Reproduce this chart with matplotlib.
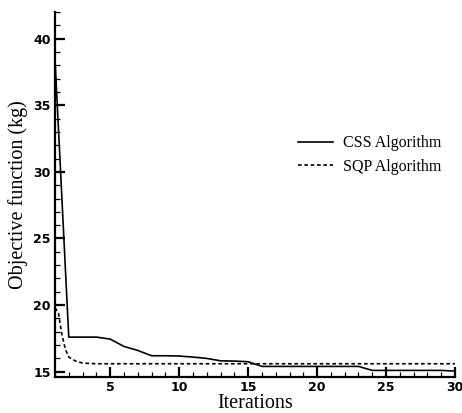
import matplotlib
matplotlib.use('Agg')
import matplotlib.pyplot as plt
from matplotlib.ticker import MultipleLocator

# CSS convergence history
css_iter = [1, 2, 3, 4, 5, 6, 7, 8, 9, 10, 11, 12, 13, 14, 15, 16, 17, 18, 19, 20,
            21, 22, 23, 24, 25, 26, 27, 28, 29, 30]
css_obj = [38.5, 17.6, 17.6, 17.6, 17.45, 16.9, 16.6, 16.2, 16.2, 16.18, 16.1, 16.0,
           15.82, 15.8, 15.75, 15.4, 15.4, 15.4, 15.4, 15.4, 15.4, 15.4, 15.4, 15.1,
           15.1, 15.1, 15.1, 15.1, 15.1, 15.05]

# SQP convergence history
sqp_iter = [1, 1.25, 1.5, 1.75, 2, 2.5, 3, 4, 5, 10, 15, 20, 25, 30]
sqp_obj = [19.8, 19.4, 17.8, 16.7, 16.1, 15.8, 15.65, 15.6, 15.6, 15.6, 15.6, 15.6,
           15.6, 15.6]

fig = plt.figure(figsize=(4.62, 4.13), dpi=100)
ax = fig.add_axes([0.119, 0.087, 0.866, 0.884])

ax.plot(css_iter, css_obj, color='black', lw=1.2, label='CSS Algorithm')
ax.plot(sqp_iter, sqp_obj, color='black', lw=1.2, linestyle=(0, (2.2, 1.6)),
        label='SQP Algorithm')

ax.set_xlim(1, 30)
ax.set_ylim(14.6, 42)
ax.xaxis.set_major_locator(MultipleLocator(5))
ax.xaxis.set_minor_locator(MultipleLocator(1))
ax.yaxis.set_major_locator(MultipleLocator(5))
ax.yaxis.set_minor_locator(MultipleLocator(1))

for s in ['top', 'right']:
    ax.spines[s].set_visible(False)
for s in ['left', 'bottom']:
    ax.spines[s].set_linewidth(1.6)

ax.tick_params(which='major', direction='in', length=7.5, width=1.6, pad=3)
ax.tick_params(which='minor', direction='in', length=3.5, width=0.9)
for lab in ax.get_xticklabels() + ax.get_yticklabels():
    lab.set_fontfamily('DejaVu Sans')
    lab.set_fontweight('bold')
    lab.set_fontsize(9)

ax.set_xlabel('Iterations', family='Liberation Serif', fontsize=14.5, labelpad=0)
ax.set_ylabel('Objective function (kg)', family='Liberation Serif', fontsize=14.5,
              labelpad=4)

leg = fig.legend(loc='upper left', bbox_to_anchor=(0.645, 0.672), frameon=False,
                 prop={'family': 'Liberation Serif', 'size': 11.5},
                 handlelength=2.2, handletextpad=0.6, labelspacing=0.45,
                 borderpad=0, borderaxespad=0)

fig.savefig('out.png', dpi=100)
